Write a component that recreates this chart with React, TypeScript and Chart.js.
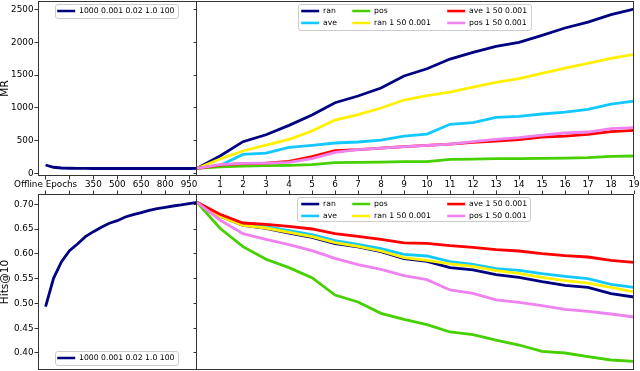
import React, { useEffect, useRef } from "react";
import { Chart, registerables } from "chart.js";

Chart.register(...registerables);

// ---------------- data ----------------
const OFFLINE_LABEL = "1000 0.001 0.02 1.0 100";
const OFFLINE_EPOCHS = [50, 100, 150, 200, 250, 300, 350, 400, 450, 500, 550, 600, 650, 700, 750, 800, 850, 900, 950, 1000];
const OFFLINE_MR = [132, 98, 87, 83, 81, 80, 79, 79, 79, 79, 79, 79, 79, 79, 79, 79, 79, 79, 79, 80];
const OFFLINE_HITS = [0.4935, 0.5507, 0.5843, 0.6065, 0.62, 0.6348, 0.6448, 0.6536, 0.6617, 0.667, 0.6744, 0.6791, 0.6832, 0.6879, 0.6913, 0.694, 0.6966, 0.6987, 0.7013, 0.704];
const OFFLINE_TICKS = [50, 200, 350, 500, 650, 800, 950];
const OFFLINE_TICK_LABELS = ["Offline Epochs", "", "350", "500", "650", "800", "950"];

const STEPS = [0, 1, 2, 3, 4, 5, 6, 7, 8, 9, 10, 11, 12, 13, 14, 15, 16, 17, 18, 19];
const STEP_TICKS = [1, 2, 3, 4, 5, 6, 7, 8, 9, 10, 11, 12, 13, 14, 15, 16, 17, 18, 19];

const SERIES_LABELS = ["ran", "ave", "pos", "ran 1 50 0.001", "ave 1 50 0.001", "pos 1 50 0.001"];
const SERIES_COLORS = ["#000080", "#12c8ff", "#46d000", "#fff000", "#ff0000", "#ee82ee"];

const MR_RAN = [80, 269, 487, 593, 735, 892, 1080, 1182, 1303, 1486, 1597, 1744, 1846, 1937, 1998, 2104, 2216, 2307, 2419, 2505];
const MR_AVE = [80, 125, 294, 314, 401, 431, 467, 482, 512, 573, 603, 751, 776, 857, 872, 908, 938, 979, 1060, 1105];
const MR_POS = [80, 106, 117, 122, 127, 137, 167, 172, 177, 183, 183, 218, 223, 228, 228, 233, 238, 243, 264, 269];
const MR_RAN_1_50 = [80, 223, 345, 436, 522, 649, 816, 898, 999, 1121, 1187, 1242, 1318, 1389, 1445, 1526, 1607, 1678, 1755, 1815];
const MR_AVE_1_50 = [80, 132, 152, 162, 188, 259, 350, 365, 390, 411, 431, 451, 477, 497, 517, 558, 573, 598, 639, 659];
const MR_POS_1_50 = [80, 137, 157, 162, 172, 228, 325, 365, 390, 411, 431, 451, 487, 522, 548, 588, 619, 634, 685, 700];

const HITS_RAN = [0.704, 0.6758, 0.6576, 0.6516, 0.6421, 0.6334, 0.6206, 0.6139, 0.6045, 0.5904, 0.585, 0.5722, 0.5675, 0.5581, 0.5527, 0.5439, 0.5365, 0.5325, 0.5197, 0.513];
const HITS_AVE = [0.704, 0.6771, 0.6596, 0.6549, 0.6469, 0.6388, 0.6267, 0.6193, 0.6105, 0.5991, 0.5957, 0.5843, 0.579, 0.5702, 0.5668, 0.5601, 0.5547, 0.55, 0.5386, 0.5325];
const HITS_POS = [0.704, 0.6516, 0.6146, 0.589, 0.5722, 0.552, 0.517, 0.5029, 0.48, 0.4679, 0.4571, 0.4424, 0.437, 0.4262, 0.4161, 0.4034, 0.4, 0.3926, 0.3859, 0.3832];
const HITS_RAN_1_50 = [0.704, 0.6758, 0.6576, 0.6522, 0.6435, 0.6347, 0.6226, 0.6152, 0.6058, 0.5924, 0.587, 0.5796, 0.5749, 0.5661, 0.5608, 0.5527, 0.546, 0.5412, 0.5325, 0.5231];
const HITS_AVE_1_50 = [0.704, 0.6798, 0.6623, 0.6596, 0.6556, 0.6502, 0.6408, 0.6354, 0.6294, 0.622, 0.6213, 0.6166, 0.6132, 0.6085, 0.6058, 0.6004, 0.5964, 0.5937, 0.587, 0.583];
const HITS_POS_1_50 = [0.704, 0.6684, 0.6408, 0.6294, 0.6186, 0.6065, 0.591, 0.5783, 0.5689, 0.556, 0.548, 0.5271, 0.5204, 0.507, 0.5022, 0.4955, 0.4881, 0.4841, 0.4787, 0.4726];

const MR_SERIES = [MR_RAN, MR_AVE, MR_POS, MR_RAN_1_50, MR_AVE_1_50, MR_POS_1_50];
const HITS_SERIES = [HITS_RAN, HITS_AVE, HITS_POS, HITS_RAN_1_50, HITS_AVE_1_50, HITS_POS_1_50];

const MR_TICKS = [0, 500, 1000, 1500, 2000, 2500];
const HITS_TICKS = [0.4, 0.45, 0.5, 0.55, 0.6, 0.65, 0.7];

// ---------------- style ----------------
const FONT = "'DejaVu Sans', sans-serif";
const TICK_SIZE = 8.8;
const TITLE_SIZE = 10.5;
const LEGEND_SIZE = 7.7;
const LEGEND_PAD = 4.2;
const SPINE = "#333333";
const LINE_W = 2.8;

Chart.defaults.font.family = FONT;
Chart.defaults.color = "#000";

const framePlugin = {
  id: "frame",
  afterDraw(chart: any, _args: any, opts: any) {
    const { ctx, chartArea: a } = chart;
    const sides: string = (opts && opts.sides) || "tlbr";
    const l = Math.round(a.left) + 0.5;
    const r = Math.round(a.right) - 0.5;
    const t = Math.round(a.top) + 0.5;
    const b = Math.round(a.bottom) - 0.5;
    ctx.save();
    ctx.strokeStyle = SPINE;
    ctx.lineWidth = 1;
    ctx.beginPath();
    if (sides.includes("t")) { ctx.moveTo(l - 0.5, t); ctx.lineTo(r + 0.5, t); }
    if (sides.includes("b")) { ctx.moveTo(l - 0.5, b); ctx.lineTo(r + 0.5, b); }
    if (sides.includes("l")) { ctx.moveTo(l, t - 0.5); ctx.lineTo(l, b + 0.5); }
    if (sides.includes("r")) { ctx.moveTo(r, t - 0.5); ctx.lineTo(r, b + 0.5); }
    ctx.stroke();
    ctx.restore();
  },
};

const tickFont = { family: FONT, size: TICK_SIZE };

function xAxis(min: number, max: number, ticks: number[], labels: string[] | null, position: string, showLabels: boolean, height: number) {
  return {
    type: "linear",
    position,
    min,
    max,
    afterBuildTicks: (s: any) => { s.ticks = ticks.map((v) => ({ value: v })); },
    afterFit: (s: any) => { s.height = height; s.paddingLeft = 0; s.paddingRight = 0; },
    ticks: {
      display: showLabels,
      autoSkip: false,
      maxRotation: 0,
      minRotation: 0,
      padding: 0,
      color: "#000",
      font: tickFont,
      callback: (v: number, i: number) => (labels ? labels[i] : String(v)),
    },
    grid: { display: true, drawOnChartArea: false, drawTicks: true, tickLength: 3.5, tickColor: SPINE, tickWidth: 1 },
    border: { display: false },
  };
}

function yAxis(min: number, max: number, ticks: number[], fmt: (v: number) => string, showLabels: boolean, width: number, title: string | null) {
  return {
    type: "linear",
    position: "left",
    min,
    max,
    afterBuildTicks: (s: any) => { s.ticks = ticks.map((v) => ({ value: v })); },
    afterFit: (s: any) => { s.width = width; s.paddingTop = 0; s.paddingBottom = 0; },
    ticks: {
      display: showLabels,
      padding: 1,
      color: "#000",
      font: tickFont,
      callback: (v: number) => fmt(v),
    },
    title: title
      ? { display: true, text: title, color: "#000", font: { family: FONT, size: TITLE_SIZE, lineHeight: 1 }, padding: 0 }
      : { display: false },
    grid: { display: true, drawOnChartArea: false, drawTicks: true, tickLength: 3.5, tickColor: SPINE, tickWidth: 1 },
    border: { display: false },
  };
}

function baseOptions(padding: any, sides: string, scales: any) {
  return {
    responsive: false,
    animation: false,
    events: [],
    layout: { padding },
    plugins: { legend: { display: false }, tooltip: { enabled: false }, frame: { sides } },
    scales,
  };
}

function lineDataset(label: string, color: string, xs: number[], ys: number[], order: number) {
  return {
    label,
    data: xs.map((x, i) => ({ x, y: ys[i] })),
    borderColor: color,
    backgroundColor: color,
    borderWidth: LINE_W,
    pointRadius: 0,
    fill: false,
    tension: 0,
    order,
  };
}

const MR_MIN = -35;
const MR_MAX = 2627;
const HITS_MIN = 0.3657;
const HITS_MAX = 0.7208;

const fmtInt = (v: number) => String(Math.round(v));
const fmt2 = (v: number) => v.toFixed(2);

function makeTopLeft() {
  return {
    type: "line",
    data: { datasets: [lineDataset(OFFLINE_LABEL, "#000080", OFFLINE_EPOCHS, OFFLINE_MR, 0)] },
    options: baseOptions({ top: 1, left: 0, right: 0, bottom: 0 }, "tlbr", {
      x: xAxis(2.5, 1000, OFFLINE_TICKS, OFFLINE_TICK_LABELS, "bottom", true, 20),
      y: yAxis(MR_MIN, MR_MAX, MR_TICKS, fmtInt, true, 38, "MR"),
    }),
    plugins: [framePlugin],
  };
}

function makeTopRight() {
  return {
    type: "line",
    data: {
      datasets: SERIES_LABELS.map((l, i) => lineDataset(l, SERIES_COLORS[i], STEPS, MR_SERIES[i], 5 - i)),
    },
    options: baseOptions({ top: 1, left: 0, right: 6, bottom: 0 }, "tbr", {
      x: xAxis(0, 19, STEP_TICKS, null, "bottom", true, 20),
      y: yAxis(MR_MIN, MR_MAX, MR_TICKS, fmtInt, false, 4, null),
    }),
    plugins: [framePlugin],
  };
}

function makeBottomLeft() {
  return {
    type: "line",
    data: { datasets: [lineDataset(OFFLINE_LABEL, "#000080", OFFLINE_EPOCHS, OFFLINE_HITS, 0)] },
    options: baseOptions({ top: 0, left: 0, right: 0, bottom: 0 }, "tlbr", {
      x: xAxis(2.5, 1000, OFFLINE_TICKS, OFFLINE_TICK_LABELS, "top", false, 4),
      y: yAxis(HITS_MIN, HITS_MAX, HITS_TICKS, fmt2, true, 38, "Hits@10"),
    }),
    plugins: [framePlugin],
  };
}

function makeBottomRight() {
  return {
    type: "line",
    data: {
      datasets: SERIES_LABELS.map((l, i) => lineDataset(l, SERIES_COLORS[i], STEPS, HITS_SERIES[i], 5 - i)),
    },
    options: baseOptions({ top: 0, left: 0, right: 6, bottom: 0 }, "tbr", {
      x: xAxis(0, 19, STEP_TICKS, null, "top", false, 4),
      y: yAxis(HITS_MIN, HITS_MAX, HITS_TICKS, fmt2, false, 4, null),
    }),
    plugins: [framePlugin],
  };
}

function makeLegend(labels: string[], colors: string[]) {
  return {
    type: "line",
    data: {
      datasets: labels.map((l, i) => ({ label: l, data: [], borderColor: colors[i], backgroundColor: colors[i] })),
    },
    options: {
      responsive: false,
      animation: false,
      events: [],
      layout: { padding: 0 },
      scales: { x: { display: false }, y: { display: false } },
      plugins: {
        tooltip: { enabled: false },
        legend: {
          display: true,
          position: "left",
          align: "start",
          labels: {
            boxWidth: 18,
            boxHeight: 2.6,
            padding: LEGEND_PAD,
            color: "#000",
            font: { family: FONT, size: LEGEND_SIZE },
            generateLabels: (chart: any) =>
              chart.data.datasets.map((d: any, i: number) => ({
                text: d.label,
                fillStyle: d.borderColor,
                strokeStyle: d.borderColor,
                lineWidth: 0,
                hidden: false,
                datasetIndex: i,
              })),
          },
        },
      },
    },
  };
}

function ChartCanvas({ make, left, top, width, height }: any) {
  const ref = useRef<HTMLCanvasElement>(null);
  useEffect(() => {
    const chart = new Chart(ref.current as HTMLCanvasElement, make() as any);
    return () => chart.destroy();
  }, []);
  return (
    <canvas
      ref={ref}
      width={width}
      height={height}
      style={{ position: "absolute", left, top, width, height, display: "block" }}
    />
  );
}

// legend column: hx = handle start x, cy = first row centre y
function LegendColumn({ labels, colors, hx, cy }: any) {
  const left = Math.round(hx - LEGEND_PAD);
  const top = Math.round(cy - LEGEND_PAD - LEGEND_SIZE / 2);
  return <ChartCanvas make={() => makeLegend(labels, colors)} left={left} top={top} width={320} height={30} />;
}

function Frame({ left, top, width, height }: any) {
  return (
    <div
      style={{
        position: "absolute",
        left,
        top,
        width,
        height,
        boxSizing: "border-box",
        border: "1px solid #cccccc",
        borderRadius: 3,
        background: "rgba(255,255,255,0.8)",
      }}
    />
  );
}

const COL_LABELS = [
  [SERIES_LABELS[0], SERIES_LABELS[1]],
  [SERIES_LABELS[2], SERIES_LABELS[3]],
  [SERIES_LABELS[4], SERIES_LABELS[5]],
];
const COL_COLORS = [
  [SERIES_COLORS[0], SERIES_COLORS[1]],
  [SERIES_COLORS[2], SERIES_COLORS[3]],
  [SERIES_COLORS[4], SERIES_COLORS[5]],
];

export default function App() {
  return (
    <div style={{ position: "fixed", left: 0, top: 0, width: 640, height: 371, overflow: "hidden", background: "#fff" }}>
      <ChartCanvas make={makeTopLeft} left={0} top={0} width={197} height={196} />
      <ChartCanvas make={makeTopRight} left={193} top={0} width={447} height={196} />
      <ChartCanvas make={makeBottomLeft} left={0} top={190} width={197} height={180} />
      <ChartCanvas make={makeBottomRight} left={193} top={190} width={447} height={180} />

      <Frame left={55} top={4} width={124} height={15} />
      <Frame left={55} top={351} width={124} height={15} />
      <Frame left={298} top={4} width={234} height={27} />
      <Frame left={297} top={197} width={234} height={25} />

      <LegendColumn labels={[OFFLINE_LABEL]} colors={["#000080"]} hx={57} cy={11.5} />
      <LegendColumn labels={[OFFLINE_LABEL]} colors={["#000080"]} hx={57} cy={358.5} />

      <LegendColumn labels={COL_LABELS[0]} colors={COL_COLORS[0]} hx={301} cy={11.5} />
      <LegendColumn labels={COL_LABELS[1]} colors={COL_COLORS[1]} hx={352} cy={11.5} />
      <LegendColumn labels={COL_LABELS[2]} colors={COL_COLORS[2]} hx={447.5} cy={11.5} />

      <LegendColumn labels={COL_LABELS[0]} colors={COL_COLORS[0]} hx={301} cy={204} />
      <LegendColumn labels={COL_LABELS[1]} colors={COL_COLORS[1]} hx={352} cy={204} />
      <LegendColumn labels={COL_LABELS[2]} colors={COL_COLORS[2]} hx={447} cy={204} />
    </div>
  );
}
